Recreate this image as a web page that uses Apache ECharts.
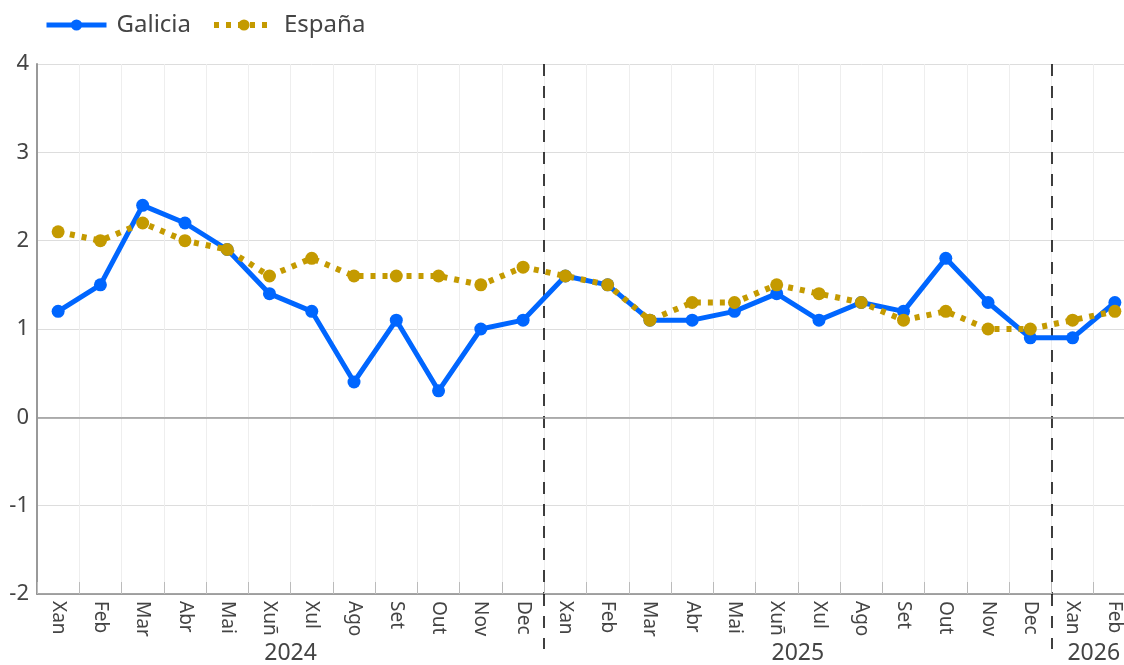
<!DOCTYPE html>
<html>
<head>
<meta charset="utf-8">
<script src="https://cdn.jsdelivr.net/npm/echarts@6/dist/echarts.min.js"></script>
<style>html,body{margin:0;padding:0;background:#fff;overflow:hidden;width:1124px;height:665px}#c{width:1140px;height:665px}</style>
</head>
<body>
<div id="c"></div>
<script>
const months = ['Xan','Feb','Mar','Abr','Mai','Xuñ','Xul','Ago','Set','Out','Nov','Dec',
                'Xan','Feb','Mar','Abr','Mai','Xuñ','Xul','Ago','Set','Out','Nov','Dec',
                'Xan','Feb'];
const galicia = [1.2,1.5,2.4,2.2,1.9,1.4,1.2,0.4,1.1,0.3,1.0,1.1,
                 1.6,1.5,1.1,1.1,1.2,1.4,1.1,1.3,1.2,1.8,1.3,0.9,
                 0.9,1.3];
const espana = [2.1,2.0,2.2,2.0,1.9,1.6,1.8,1.6,1.6,1.6,1.5,1.7,
                1.6,1.5,1.1,1.3,1.3,1.5,1.4,1.3,1.1,1.2,1.0,1.0,
                1.1,1.2];
const years = ['2024','2025','2026'];
const yearCenters = [5.5, 17.5, 24.5];
const yearBreaks = [11.5, 23.5];

const FONT = 'Noto Sans';
const BLUE = '#0066FF', GOLD = '#C49A00';
const chart = echarts.init(document.getElementById('c'), null, {renderer:'canvas'});
chart.setOption({
  animation:false,
  textStyle:{fontFamily:FONT},
  legend:{
    top:8, left:39, itemWidth:60, itemHeight:14, itemGap:20,
    textStyle:{fontSize:24, color:'#444', fontFamily:FONT, padding:[0,0,0,5]},
    data:[
      {name:'Galicia', lineStyle:{width:5, color:BLUE}},
      {name:'España', lineStyle:{width:6, color:GOLD, type:[5,7]}}
    ]
  },
  grid:{left:37, top:64, bottom:66, right:4, containLabel:false},
  xAxis:[{
    type:'category', data:months, boundaryGap:true,
    axisLine:{onZero:false, lineStyle:{color:'#888', width:1.5}},
    axisTick:{show:true, inside:true, length:12, lineStyle:{color:'#bbb'}},
    splitLine:{show:true, lineStyle:{color:'#eeeeee', width:1}},
    axisLabel:{rotate:-90, margin:7, fontSize:19, color:'#444', fontFamily:FONT}
  },{
    type:'value', min:-0.5, max:25.5, position:'bottom', offset:0,
    axisLine:{show:false, onZero:false},
    axisTick:{show:true, customValues:yearBreaks, length:55, lineStyle:{color:'#000', width:1.5, type:[12,10]}},
    splitLine:{show:true, lineStyle:{color:'#000', width:1.5, type:[12,10]}},
    axisLabel:{customValues:yearCenters, margin:48, fontSize:23, color:'#444', fontFamily:FONT,
      formatter:function(v){ const i = yearCenters.indexOf(v); return i>=0 ? years[i] : ''; }}
  }],
  yAxis:{
    type:'value', min:-2, max:4, interval:1,
    axisLine:{show:true, onZero:false, lineStyle:{color:'#999', width:2}},
    axisTick:{show:false},
    splitLine:{lineStyle:{color:'#dddddd', width:1}},
    axisLabel:{fontSize:22, color:'#444', margin:8, fontFamily:FONT}
  },
  series:[{
    name:'Galicia', type:'line', xAxisIndex:0, data:galicia,
    symbol:'circle', symbolSize:13,
    lineStyle:{color:BLUE, width:5},
    itemStyle:{color:BLUE},
    z:3,
    markLine:{silent:true, symbol:'none', label:{show:false},
      lineStyle:{color:'#999', width:1.5, type:'solid'}, data:[{yAxis:0}]}
  },{
    name:'España', type:'line', xAxisIndex:0, data:espana,
    symbol:'circle', symbolSize:13,
    lineStyle:{color:GOLD, width:6, type:[5,7]},
    itemStyle:{color:GOLD},
    z:4
  }]
});
</script>
</body>
</html>
